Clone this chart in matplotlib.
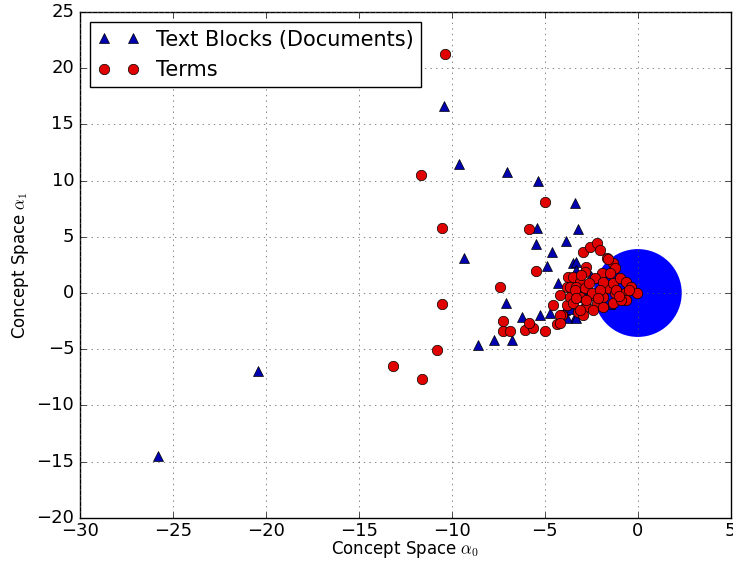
import matplotlib
matplotlib.use("Agg")
import matplotlib.pyplot as plt

plt.style.use("classic")

# Text blocks (documents) in concept space
doc_x = [-25.8, -20.4, -10.4, -9.64, -9.32, -7.03, -5.38, -3.39, -5.43, -5.45, -3.87,
         -4.64, -4.91, -3.21, -3.48, -3.35, -3.30, -4.28, -7.10, -6.25, -5.27, -4.73,
         -3.92, -3.39, -8.58, -7.74, -6.74, -3.0, -2.5, -2.8, -1.5, -3.60, -3.83, -3.30]
doc_y = [-14.5, -6.9, 16.6, 11.5, 3.14, 10.8, 9.96, 7.98, 5.81, 4.33, 4.65,
         3.62, 2.43, 5.67, 2.64, 2.79, 2.05, 0.86, -0.92, -2.1, -1.96, -1.81,
         -1.51, -2.1, -4.63, -4.18, -4.18, 0.3, 1.5, -0.5, -1.0, -1.42, -2.25, -2.25]

# Terms in concept space
term_x = [-10.36, -11.68, -10.54, -4.98, -5.84, -5.48, -7.42, -10.54, -7.24, -7.24, -6.88,
          -6.08, -5.66, -5.84, -4.98, -10.82, -13.16, -11.61, -4.37, -4.16, -4.55, -4.10,
          -3.83, -3.80, -3.66, -3.75, -3.48, -2.94, -2.58, -2.22, -2.04, -2.76, -2.85,
          -1.68, -1.33, -1.24, -1.95, -2.31, -3.12, -3.30, -2.85, -3.66, -3.12, -2.40,
          -1.60, -1.33, -0.97, -0.61, -0.34, -0.07, -0.70, -1.24, -1.87, -2.22, -1.33,
          -0.61, -2.76, -3.21, -2.94, -2.40, -1.87, -3.48,
          -1.60, -3.03, -1.87, -3.39, -2.49, -2.04, -1.15, -3.30, -2.76, -2.13,
          -0.88, -3.12, -4.19, -2.60, -1.50, -0.50, -1.00, -4.19]
term_y = [21.26, 10.5, 5.81, 8.07, 5.67, 1.99, 0.56, -0.98, -2.46, -3.35, -3.38,
          -3.29, -3.14, -2.64, -3.38, -5.07, -6.49, -7.68, -2.76, -0.18, -1.07, -1.96,
          0.56, -1.07, 0.56, 1.45, 1.45, 3.67, 4.12, 4.42, 3.83, 2.34, 1.90,
          3.09, 2.64, 2.19, 1.75, 1.31, 1.01, 0.56, 0.42, -0.33, -0.33, -0.18,
          0.42, 0.86, 1.31, 1.01, 0.56, -0.03, -0.03, -0.03, -0.33, -0.92, -0.92,
          -0.62, -1.22, -1.66, -1.96, -1.51, -1.22, -0.92,
          3.02, 1.60, 1.01, 0.27, -0.03, 0.27, 0.27, -0.47, -0.62, -0.47,
          -0.62, -1.51, -1.96, 0.90, 1.80, 0.30, -0.30, -2.70]

# origin marker
origin_x = [0]
origin_y = [0]

fig = plt.figure(figsize=(7.33, 5.63), dpi=100, facecolor="white")
ax = fig.add_axes([0.109, 0.08, 0.888, 0.899])
ax.set_facecolor("white")

ax.scatter(origin_x, origin_y, s=4000, c="#0000ff", edgecolors="none", zorder=2)
ax.plot(doc_x, doc_y, "^", color="#0000b0", mec="black", mew=0.5, ms=7,
        label="Text Blocks (Documents)", zorder=3)
ax.plot(term_x, term_y, "o", color="#e00000", mec="black", mew=0.5, ms=7.5,
        label="Terms", zorder=4)

ax.set_xlim(-30, 5)
ax.set_ylim(-20, 25)
ax.grid(True, color="#555555", linestyle=":")
ax.tick_params(labelsize=13)
ax.tick_params(axis="x", pad=3)
ax.set_xlabel(r"Concept Space $\alpha_0$", fontsize=12, labelpad=-1)
ax.set_ylabel(r"Concept Space $\alpha_1$", fontsize=12, labelpad=4)

leg = ax.legend(loc="upper left", numpoints=2, fontsize=15, fancybox=False,
                borderaxespad=0.5, handletextpad=0.8, borderpad=0.35,
                labelspacing=0.5)
leg.get_frame().set_edgecolor("black")

fig.savefig("out.png", dpi=100, facecolor="white")
